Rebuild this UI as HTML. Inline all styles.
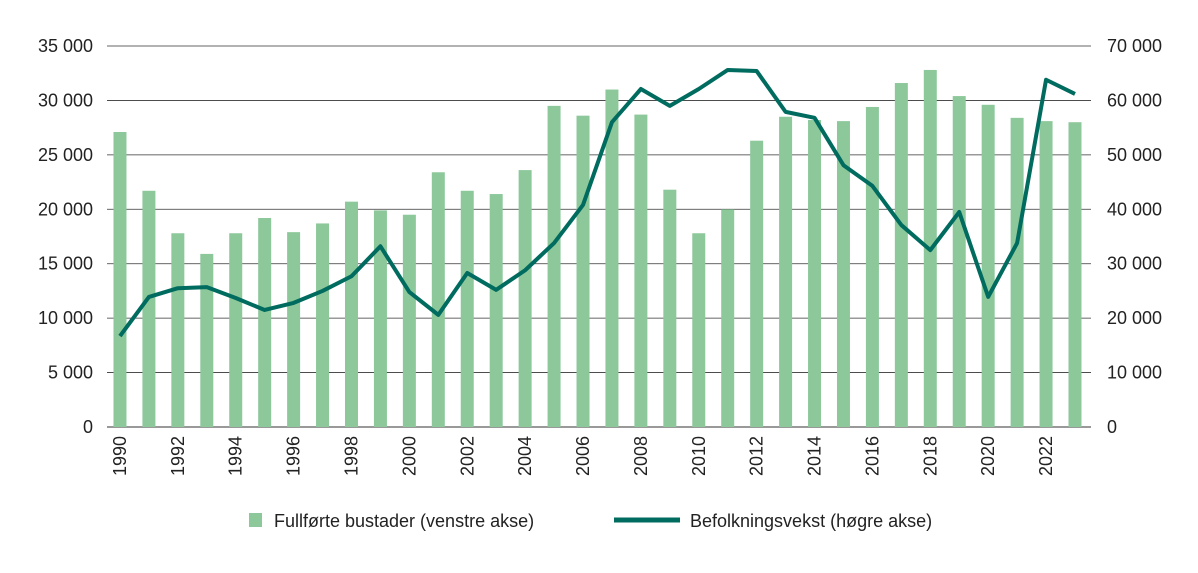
<!DOCTYPE html>
<html><head><meta charset="utf-8">
<style>
body{margin:0;background:#fff;font-family:"Liberation Sans",sans-serif;}
svg text{font-family:"Liberation Sans",sans-serif;font-size:18px;fill:#222;}
</style></head>
<body>
<svg id="chart" width="1198" height="568"></svg>
<script>
const years=[1990,1991,1992,1993,1994,1995,1996,1997,1998,1999,2000,2001,2002,2003,2004,2005,2006,2007,2008,2009,2010,2011,2012,2013,2014,2015,2016,2017,2018,2019,2020,2021,2022,2023];
const dwellings=[27100,21700,17800,15900,17800,19200,17900,18700,20700,19900,19500,23400,21700,21400,23600,29500,28600,31000,28700,21800,17800,20000,26300,28500,28200,28100,29400,31600,32800,30400,29600,28400,28100,28000];
const growth=[16700,23900,25500,25700,23700,21500,22800,25000,27700,33200,24800,20600,28300,25200,28800,33800,40800,56000,62100,59000,62100,65600,65400,57900,56800,48100,44300,37100,32500,39500,23900,33800,63800,61200];
const leftTicks=[0,5000,10000,15000,20000,25000,30000,35000];
const rightTicks=[0,10000,20000,30000,40000,50000,60000,70000];
const NS="http://www.w3.org/2000/svg";
const svg=document.getElementById('chart');
const x0=105.5,bw=28.94,yBase=427,yTop=46;
const xc=i=>x0+bw*(i+0.5);
const yL=v=>yBase-(v/35000)*(yBase-yTop);
const yR=v=>yBase-(v/70000)*(yBase-yTop);
function mk(t,a){const e=document.createElementNS(NS,t);for(const k in a)e.setAttribute(k,a[k]);svg.appendChild(e);return e;}
const fmt=v=>v===0?"0":String(v).replace(/\B(?=(\d{3})+(?!\d))/g," ");
leftTicks.forEach((v,i)=>{
 const g=mk('line',{x1:107,x2:1091,y1:yL(v),y2:yL(v),stroke:'#333','stroke-width':v===0?1:0.8});
 
 
 const t=mk('text',{x:93,y:yL(v)+6,'text-anchor':'end'});t.textContent=fmt(v);
 
 
 const r=mk('text',{x:1107,y:yR(rightTicks[i])+6});r.textContent=fmt(rightTicks[i]);
 
 
});
dwellings.forEach((v,i)=>{
 const b=mk('rect',{x:xc(i)-6.5,y:yL(v),width:13,height:yBase-yL(v),fill:'#8dc89b'});
 
 
});
years.forEach((y,i)=>{if(y%2===0){
 const t=mk('text',{transform:`translate(${xc(i)+6},436) rotate(-90)`,'text-anchor':'end'});t.textContent=y;
 
 
}});
const p=mk('polyline',{points:growth.map((v,i)=>xc(i)+','+yR(v)).join(' '),fill:'none',stroke:'#006b5f','stroke-width':4,'stroke-linejoin':'round'});


const lb=mk('rect',{x:249,y:513,width:13,height:14,fill:'#8dc89b'});


const lt=mk('text',{x:274,y:527});lt.textContent='Fullførte bustader (venstre akse)';


const ll=mk('line',{x1:614,x2:680,y1:520,y2:520,stroke:'#006b5f','stroke-width':5});


const lt2=mk('text',{x:690,y:527});lt2.textContent='Befolkningsvekst (høgre akse)';


</script>
</body></html>
